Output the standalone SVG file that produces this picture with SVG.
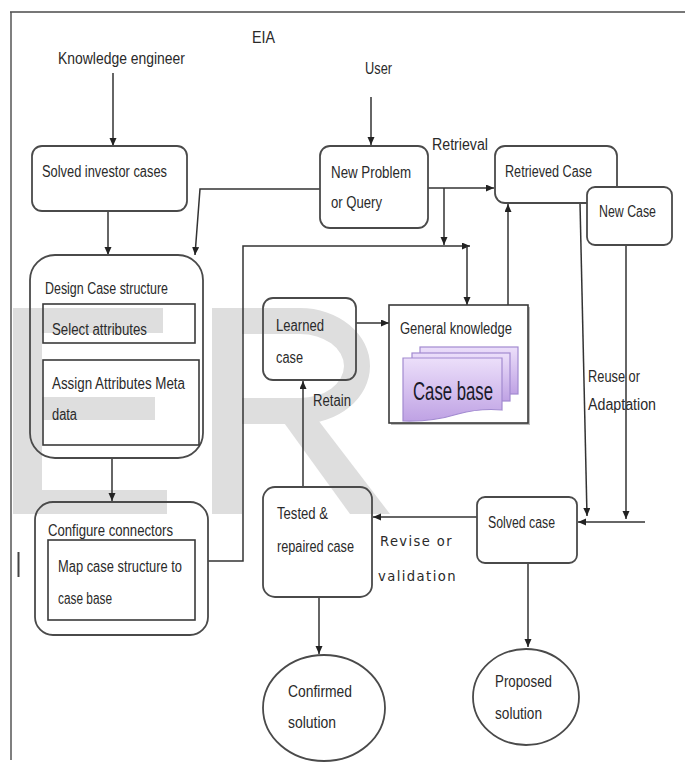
<svg xmlns="http://www.w3.org/2000/svg" width="685" height="774" viewBox="0 0 685 774">
<defs>
<style>
.box{fill:none;stroke:#4a4a4a;stroke-width:1.8}
.wbox{fill:#fff;stroke:#4a4a4a;stroke-width:1.8}
.in{fill:none;stroke:#3a3a3a;stroke-width:1.6}
.t{font-family:"Liberation Sans","Open Sans",sans-serif;font-size:16px;fill:#2a2a2a}
.sp{font-family:"DejaVu Sans","Liberation Sans",sans-serif;font-size:14px;fill:#2a2a2a;letter-spacing:1.5px}
.c{fill:none;stroke:#333;stroke-width:1.5}
.wm{fill:#dedede}
</style>
<marker id="ah" markerWidth="9" markerHeight="8" refX="8" refY="3.5" orient="auto" markerUnits="userSpaceOnUse">
<path d="M0,0 L8,3.5 L0,7 z" fill="#222"/>
</marker>
<linearGradient id="pg" x1="0" y1="0" x2="0" y2="1">
<stop offset="0" stop-color="#ecdffa"/>
<stop offset="1" stop-color="#bfa2e4"/>
</linearGradient>
</defs>
<rect width="685" height="774" fill="#fff"/>
<g id="watermark">
<rect class="wm" x="13" y="308" width="29" height="206"/>
<rect class="wm" x="13" y="308" width="150" height="25"/>
<rect class="wm" x="42" y="397" width="113" height="23"/>
<rect class="wm" x="13" y="490" width="154" height="24"/>
<rect class="wm" x="212" y="308" width="30" height="206"/>
<path class="wm" d="M242,308 H300 A70 58 0 0 1 300,424 H242 V398 H300 A44 32 0 0 0 300,334 H242 Z"/>
<polygon class="wm" points="282,420 318,420 390,514 350,514"/>
</g>
<g id="frame">
<line x1="10" y1="12" x2="685" y2="12" stroke="#777" stroke-width="2.2"/>
<line x1="11" y1="12" x2="11" y2="760" stroke="#555" stroke-width="1.5"/>
<line x1="18.5" y1="552" x2="18.5" y2="577" stroke="#444" stroke-width="2"/>
</g>
<g id="labels">
<text class="t" x="58" y="64" textLength="127" lengthAdjust="spacingAndGlyphs">Knowledge engineer</text>
<text class="t" x="252" y="43" textLength="23" lengthAdjust="spacingAndGlyphs">EIA</text>
<text class="t" x="365" y="74" textLength="27" lengthAdjust="spacingAndGlyphs">User</text>
<text class="t" x="432" y="150" textLength="56" lengthAdjust="spacingAndGlyphs">Retrieval</text>
<text class="t" x="313" y="406" textLength="38" lengthAdjust="spacingAndGlyphs">Retain</text>
<text class="t" x="588" y="382" textLength="52" lengthAdjust="spacingAndGlyphs">Reuse or</text>
<text class="t" x="588" y="410" textLength="68" lengthAdjust="spacingAndGlyphs">Adaptation</text>
<text class="sp" x="380" y="546" textLength="73" lengthAdjust="spacingAndGlyphs">Revise or</text>
<text class="sp" x="378" y="581" textLength="79" lengthAdjust="spacingAndGlyphs">validation</text>
</g>
<g id="connectors">
<line class="c" x1="113" y1="73" x2="113" y2="146" marker-end="url(#ah)"/>
<line class="c" x1="108" y1="211" x2="108" y2="255" marker-end="url(#ah)"/>
<polyline class="c" points="320,189 200,189 195,255" marker-end="url(#ah)"/>
<line class="c" x1="371" y1="97" x2="371" y2="145" marker-end="url(#ah)"/>
<line class="c" x1="428" y1="188" x2="494" y2="188" marker-end="url(#ah)"/>
<line class="c" x1="444" y1="188" x2="444" y2="245" marker-end="url(#ah)"/>
<polyline class="c" points="208,561 243,561 243,246 470,246" marker-end="url(#ah)"/>
<line class="c" x1="467" y1="246" x2="467" y2="305" marker-end="url(#ah)"/>
<line class="c" x1="508" y1="305" x2="508" y2="204" marker-end="url(#ah)"/>
<line class="c" x1="580" y1="203" x2="587" y2="516" marker-end="url(#ah)"/>
<line class="c" x1="626" y1="245" x2="626" y2="519" marker-end="url(#ah)"/>
<line class="c" x1="645" y1="522" x2="578" y2="522" marker-end="url(#ah)"/>
<line class="c" x1="477" y1="517" x2="373" y2="517" marker-end="url(#ah)"/>
<line class="c" x1="303" y1="487" x2="303" y2="381" marker-end="url(#ah)"/>
<line class="c" x1="356" y1="323" x2="389" y2="323" marker-end="url(#ah)"/>
<line class="c" x1="319" y1="597" x2="319" y2="654" marker-end="url(#ah)"/>
<line class="c" x1="528" y1="563" x2="528" y2="647" marker-end="url(#ah)"/>
<line class="c" x1="112" y1="458" x2="112" y2="501" marker-end="url(#ah)"/>
</g>
<g id="solved-investor">
<rect class="box" x="32" y="146" width="155" height="65" rx="10"/>
<text class="t" x="42" y="177" textLength="125" lengthAdjust="spacingAndGlyphs">Solved investor cases</text>
</g>
<g id="new-problem">
<rect class="box" x="320" y="146" width="108" height="82" rx="10"/>
<text class="t" x="331" y="178" textLength="80" lengthAdjust="spacingAndGlyphs">New Problem</text>
<text class="t" x="331" y="208" textLength="51" lengthAdjust="spacingAndGlyphs">or Query</text>
</g>
<g id="retrieved-case">
<rect class="box" x="495" y="146" width="122" height="57" rx="10"/>
<text class="t" x="505" y="177" textLength="87" lengthAdjust="spacingAndGlyphs">Retrieved Case</text>
</g>
<g id="new-case">
<rect class="wbox" x="587" y="187" width="85" height="58" rx="8"/>
<text class="t" x="599" y="217" textLength="57" lengthAdjust="spacingAndGlyphs">New Case</text>
</g>
<g id="design-case">
<rect class="box" x="30" y="255" width="173" height="203" rx="25"/>
<text class="t" x="45" y="294" textLength="123" lengthAdjust="spacingAndGlyphs">Design Case structure</text>
<rect class="in" x="43" y="304" width="152" height="39"/>
<text class="t" x="52" y="335" textLength="95" lengthAdjust="spacingAndGlyphs">Select attributes</text>
<rect class="in" x="43" y="360" width="156" height="85"/>
<text class="t" x="52" y="389" textLength="133" lengthAdjust="spacingAndGlyphs">Assign Attributes Meta</text>
<text class="t" x="52" y="420" textLength="25" lengthAdjust="spacingAndGlyphs">data</text>
</g>
<g id="configure">
<rect class="box" x="35" y="502" width="173" height="133" rx="18"/>
<text class="t" x="48" y="536" textLength="125" lengthAdjust="spacingAndGlyphs">Configure connectors</text>
<rect class="in" x="48" y="540" width="147" height="80"/>
<text class="t" x="58" y="572" textLength="124" lengthAdjust="spacingAndGlyphs">Map case structure to</text>
<text class="t" x="58" y="604" textLength="54" lengthAdjust="spacingAndGlyphs">case base</text>
</g>
<g id="learned-case">
<rect class="box" x="263" y="298" width="93" height="82" rx="10"/>
<text class="t" x="276" y="331" textLength="48" lengthAdjust="spacingAndGlyphs">Learned</text>
<text class="t" x="276" y="363" textLength="27" lengthAdjust="spacingAndGlyphs">case</text>
</g>
<g id="general-knowledge">
<rect x="391" y="307" width="139" height="118" fill="#bbb"/>
<rect x="389" y="305" width="139" height="118" fill="#fff" stroke="#3a3a3a" stroke-width="1.6"/>
<text class="t" x="400" y="334" textLength="112" lengthAdjust="spacingAndGlyphs">General knowledge</text>
<rect x="420" y="347" width="98" height="47" fill="url(#pg)" stroke="#a28ad0" stroke-width="1.2"/>
<rect x="412" y="353" width="98" height="48" fill="url(#pg)" stroke="#a28ad0" stroke-width="1.2"/>
<path d="M403,358 H502 V410 Q480,408 458,414 Q432,422 403,421 Z" fill="url(#pg)" stroke="#a28ad0" stroke-width="1.2"/>
<text x="413" y="400" textLength="80" lengthAdjust="spacingAndGlyphs" style="font-family:'Liberation Sans',sans-serif;font-size:25px;fill:#1a1a2a">Case base</text>
</g>
<g id="tested-case">
<rect class="box" x="263" y="487" width="109" height="110" rx="12"/>
<text class="t" x="277" y="519" textLength="51" lengthAdjust="spacingAndGlyphs">Tested &amp;</text>
<text class="t" x="277" y="552" textLength="77" lengthAdjust="spacingAndGlyphs">repaired case</text>
</g>
<g id="solved-case">
<rect class="box" x="477" y="497" width="100" height="66" rx="8"/>
<text class="t" x="488" y="528" textLength="67" lengthAdjust="spacingAndGlyphs">Solved case</text>
</g>
<g id="confirmed-solution">
<ellipse class="box" cx="324" cy="708" rx="61" ry="53"/>
<text class="t" x="288" y="697" textLength="64" lengthAdjust="spacingAndGlyphs">Confirmed</text>
<text class="t" x="288" y="728" textLength="48" lengthAdjust="spacingAndGlyphs">solution</text>
</g>
<g id="proposed-solution">
<ellipse class="box" cx="526" cy="697" rx="53" ry="48"/>
<text class="t" x="495" y="687" textLength="57" lengthAdjust="spacingAndGlyphs">Proposed</text>
<text class="t" x="495" y="719" textLength="47" lengthAdjust="spacingAndGlyphs">solution</text>
</g>
</svg>
